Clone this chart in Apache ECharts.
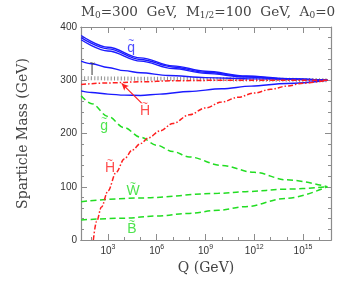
<!DOCTYPE html>
<html>
<head>
<meta charset="utf-8">
<script src="https://cdn.jsdelivr.net/npm/echarts@6/dist/echarts.min.js"></script>
<style>html,body{margin:0;padding:0;background:#fff}#c{width:346px;height:288px}</style>
</head>
<body>
<div id="c"></div>
<script>
// x values are log10(Q / GeV)
const xMajorTicks = [3, 6, 9, 12, 15];
const xMinorTicks = [2, 4, 5, 7, 8, 10, 11, 13, 14, 16];

const squark1 = [[1.35,384],[3,362],[5,342],[7,327],[9,317],[11.5,308],[14,303],[16.5,300]];
const squark2 = [[1.35,380],[3,359],[5,339],[7,325],[9,315],[11.5,307],[14,302.5],[16.5,300]];
const squark3 = [[1.35,376],[3,355],[5,336],[7,322],[9,313],[11.5,306],[14,302],[16.5,300]];
const blueMid = [[1.35,336],[2,331],[3,324],[4,318],[5,314],[6.7,309],[9,305],[12,302.5],[16.5,300]];
const blueLow = [[1.35,280],[2,277],[3,274],[4,272],[5,271.5],[6.2,274],[8,279],[10,284],[11.8,289],[14,294],[16.5,300]];
const slepton = [[1.35,304],[5,303],[9,302],[13,301],[16.5,300]];
const higgsD = [[1.35,292],[3,295],[5,297],[7,299],[10,300],[16.5,300]];
const higgsU = [[2.1,0],[2.3,35],[2.6,62],[3.0,92],[3.5,127],[4.0,152],[4.5,169],[5.0,181],[5.5,192],[6.2,205],[7,219],[8,235],[9,248],[10,259],[11,268],[12,276],[13,283],[14,289],[15,294.5],[16.5,300]];
const gluino = [[1.35,271],[2,256],[3,232],[4,211],[5,193],[6,178],[7,166],[8,156],[10,140],[12,127],[14,113],[16.5,100]];
const wino = [[1.35,72],[5,79],[9.8,87.6],[11.46,90.8],[14,95.5],[16.5,100]];
const bino = [[1.35,37.6],[4,41],[6,45],[8,50],[9.8,56],[11.46,62.6],[13.93,78],[16.5,100]];

const annotations = [
  {name:'q', value:[4.42,362], color:'#1f1fff'},
  {name:'l', value:[2.02,319], color:'#333333'},
  {name:'H', value:[5.28,244], color:'#ff1f1f'},
  {name:'g', value:[2.76,216], color:'#22dd22'},
  {name:'H', value:[3.12,137], color:'#ff1f1f'},
  {name:'W', value:[4.54,94], color:'#22dd22'},
  {name:'B', value:[4.48,22.5], color:'#22dd22'}
];
const arrowFrom = [5.07,257];
const arrowTo = [3.84,294];

const BLUE = '#1a1aff', RED = '#ff1f1f', GREEN = '#22dd22', AX = '#8c8c8c';
const SERIF = '"DejaVu Serif", "Liberation Serif", serif';
const SANS = '"Liberation Sans", Arial, sans-serif';
const TXT = '#444';

function line(data, color, type, width, z) {
  return {type:'line', data, showSymbol:false, smooth:0.35, smoothMonotone:'x',
    lineStyle:{color, type, width, cap:'butt'}, z: z||2, silent:true, animation:false};
}

const sup = {
  b:{fontSize:10, fontFamily:SANS, color:'#333'},
  s:{fontSize:7, fontFamily:SANS, color:'#333', padding:[0,0,7,0]}
};

function xax(pos, ticks, len, labels) {
  return {type:'value', position:pos, min:1.34, max:16.72,
    axisLine:{show:true, lineStyle:{color:AX, width:1.2}},
    axisTick:{show:true, inside:true, length:len, customValues:ticks, lineStyle:{color:AX, width:1}},
    axisLabel:labels ? {show:true, customValues:ticks, margin:4, formatter:v => '{b|10}{s|' + v + '}', rich:sup} : {show:false},
    splitLine:{show:false},
    name: labels ? 'Q (GeV)' : '', nameLocation:'middle', nameGap:21,
    nameTextStyle:{fontFamily:SERIF, fontSize:14, color:TXT}
  };
}
function yax(pos, labels) {
  return {type:'value', position:pos, min:0, max:400, interval:100,
    axisLine:{show:true, lineStyle:{color:AX, width:1.2}},
    axisTick:{show:true, inside:true, length:6, lineStyle:{color:AX, width:1}},
    minorTick:{show:true, splitNumber:5, length:3, lineStyle:{color:AX, width:1}},
    axisLabel:{show:labels, fontFamily:SANS, fontSize:10, color:'#333', margin:4},
    splitLine:{show:false},
    name: labels ? 'Sparticle Mass (GeV)' : '', nameLocation:'middle', nameGap:51,
    nameTextStyle:{fontFamily:SERIF, fontSize:14, color:TXT}
  };
}

const chart = echarts.init(document.getElementById('c'), null, {renderer:'canvas'});
chart.setOption({
  animation:false,
  backgroundColor:'#fff',
  title:{
    text:'M{s|0}=300  GeV,  M{s|1/2}=100  GeV,  A{s|0}=0',
    left:76, top:-1,
    textStyle:{fontFamily:SERIF, fontSize:13.6, fontWeight:'normal', color:TXT,
      rich:{s:{fontFamily:SERIF, fontSize:9, color:TXT, padding:[7,0,0,0]}}}
  },
  grid:{left:81, right:15, top:27, bottom:48, containLabel:false},
  xAxis:[xax('bottom', xMajorTicks, 6, true), xax('bottom', xMinorTicks, 3, false),
         xax('top', xMajorTicks, 6, false), xax('top', xMinorTicks, 3, false)],
  yAxis:[yax('left', true), yax('right', false)],
  series:[
    line(slepton, '#8a8a8a', [1,2.3], 4, 1),
    line(squark1, BLUE, 'solid', 1.4),
    line(squark2, BLUE, 'solid', 1.4),
    line(squark3, BLUE, 'solid', 1.4),
    line(blueMid, BLUE, 'solid', 1.4),
    line(blueLow, BLUE, 'solid', 1.4),
    line(higgsD, RED, [5,2,1.5,2], 1.5, 3),
    line(higgsU, RED, [5,2,1.5,2], 1.5, 3),
    line(gluino, GREEN, [6,3.5], 1.5),
    line(wino, GREEN, [6,3.5], 1.5),
    line(bino, GREEN, [6,3.5], 1.5),
    {type:'scatter', data:annotations.map(a => ({name:a.name, value:a.value,
        label:{color:a.color, rich:{t:{fontSize:10, fontFamily:SANS, color:a.color, lineHeight:2, align:'center'}, c:{fontSize:14, fontFamily:SANS, color:a.color, lineHeight:11, align:'center'}}}})),
      symbolSize:0, silent:true, animation:false, z:5,
      label:{show:true, position:'inside', formatter:p => '{t|~}\n{c|' + p.name + '}'},
      markLine:{silent:true, animation:false, symbol:['none','arrow'], symbolSize:[5,7],
        lineStyle:{color:RED, type:'solid', width:1.2}, label:{show:false},
        data:[[{coord:arrowFrom},{coord:arrowTo}]]}
    }
  ]
});
</script>
</body>
</html>
